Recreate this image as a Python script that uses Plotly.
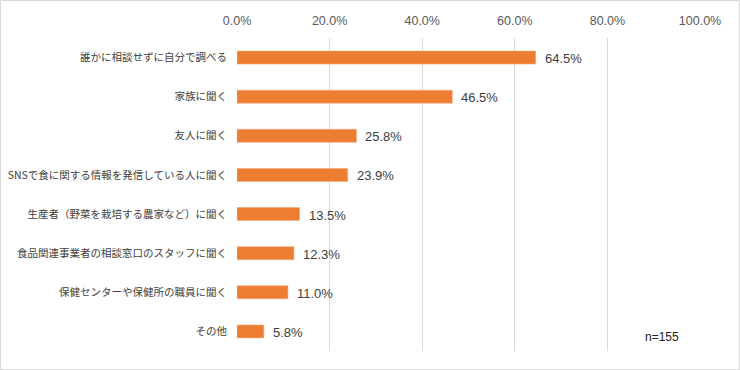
import plotly.graph_objects as go

categories = [
    "誰かに相談せずに自分で調べる",
    "家族に聞く",
    "友人に聞く",
    "SNSで食に関する情報を発信している人に聞く",
    "生産者（野菜を栽培する農家など）に聞く",
    "食品関連事業者の相談窓口のスタッフに聞く",
    "保健センターや保健所の職員に聞く",
    "その他",
]
values = [64.5, 46.5, 25.8, 23.9, 13.5, 12.3, 11.0, 5.8]
tick_vals = [0, 20, 40, 60, 80, 100]
tick_text = ["0.0%", "20.0%", "40.0%", "60.0%", "80.0%", "100.0%"]
note = "n=155"

W, H = 740, 370
L, R, T, B = 237, 40, 38, 19
pw, ph = W - L - R, H - T - B

fig = go.Figure()
fig.add_trace(go.Bar(
    x=values, y=categories, orientation="h",
    marker=dict(color="#ED7D31", line=dict(color="#F4A77A", width=0.6)),
    hoverinfo="skip",
))

for c, v in zip(categories, values):
    fig.add_annotation(x=v, y=c, xref="x", yref="y", text=f"{v:.1f}%",
                       showarrow=False, xanchor="left", xshift=7, yshift=-1,
                       font=dict(family="Liberation Sans, Arial", size=13, color="#404040"))

fig.add_annotation(x=(662 - L) / pw, y=(H - B - 337) / ph, xref="paper", yref="paper",
                   text=note, showarrow=False, xanchor="center", yanchor="middle",
                   font=dict(family="Liberation Sans, Arial", size=12, color="#222222"))

fig.add_shape(type="rect", xref="paper", yref="paper",
              x0=(0.5 - L) / pw, x1=(739.5 - L) / pw,
              y0=(H - B - 369.5) / ph, y1=(H - B - 0.5) / ph,
              line=dict(color="#D9D9D9", width=1), fillcolor="rgba(0,0,0,0)", layer="below")

fig.update_layout(
    template="none",
    width=W, height=H,
    margin=dict(l=L, r=R, t=T, b=B, pad=0, autoexpand=False),
    paper_bgcolor="white", plot_bgcolor="white",
    showlegend=False, bargap=0.67,
    xaxis=dict(range=[0, 100], side="top", tickvals=tick_vals, ticktext=tick_text,
               showgrid=True, gridcolor="#D9D9D9", gridwidth=1, zeroline=False,
               showline=False, ticks="", ticklabelstandoff=10, automargin=False,
               tickfont=dict(family="Liberation Sans, Arial", size=12.5, color="#595959"),
               fixedrange=True),
    yaxis=dict(autorange="reversed", showgrid=False, zeroline=False, showline=False,
               ticks="", ticklabelstandoff=9, automargin=False,
               tickfont=dict(family="Noto Sans CJK JP", size=10.5, color="#404040"),
               fixedrange=True),
)

fig.write_html("out.html")
